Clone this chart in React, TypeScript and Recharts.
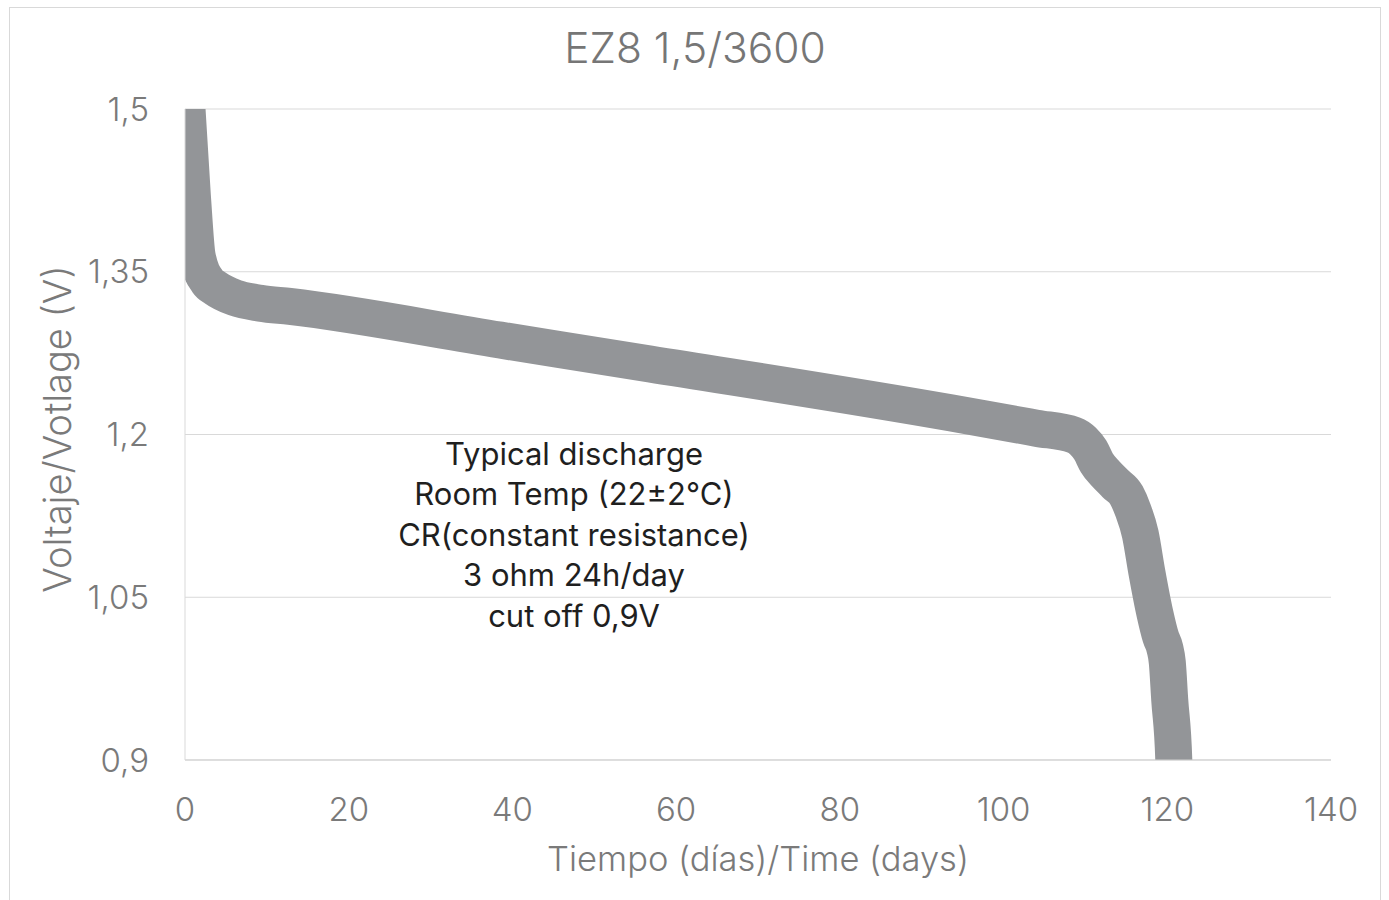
import React from 'react';
import { LineChart, Line, XAxis, YAxis, CartesianGrid } from 'recharts';

// Values
const days: number[] = [
  0, 0.9, 1.5, 2.8, 3.7, 6.1, 9.2, 12.8, 38.5, 56.8, 93.5, 104.0,
  108.6, 109.7, 110.6, 111.4, 112.5, 113.7, 115.0, 115.8, 116.7, 117.5,
  118.5, 119.2, 119.7, 120.0, 120.3, 120.8, 120.9,
];
const volts: number[] = [
  1.53, 1.42, 1.364, 1.3406, 1.335, 1.326, 1.321, 1.318, 1.287, 1.265, 1.22, 1.2058,
  1.1995, 1.194, 1.1857, 1.1737, 1.1636, 1.1544, 1.1442, 1.1304, 1.1083, 1.0733,
  1.0346, 1.0134, 1.003, 0.99, 0.9553, 0.899, 0.86,
];
const xTicks: number[] = [0, 20, 40, 60, 80, 100, 120, 140];
const yTicks: number[] = [0.9, 1.05, 1.2, 1.35, 1.5];
const noteLines: string[] = [
  'Typical discharge',
  'Room Temp (22±2°C)',
  'CR(constant resistance)',
  '3 ohm 24h/day',
  'cut off 0,9V',
];
const title = 'EZ8 1,5/3600';
const xTitle = 'Tiempo (días)/Time (days)';
const yTitle = 'Voltaje/Votlage (V)';

const data = days.map((d, i) => ({ day: d, v: volts[i] }));

const FONT = 'Inter, "Noto Sans", sans-serif';
const GRAY = '#7a7a7a';

export default function App() {
  return (
    <div
      style={{
        position: 'absolute',
        left: 0,
        top: 0,
        width: 1389,
        height: 900,
        background: '#fff',
        fontFamily: FONT,
        overflow: 'hidden',
      }}
    >
      <div
        style={{
          position: 'absolute',
          left: 9,
          top: 7,
          width: 1372,
          height: 900,
          border: '1px solid #d9d9d9',
          boxSizing: 'border-box',
        }}
      />
      <div
        style={{
          position: 'absolute',
          left: 0,
          top: 22,
          width: 1390,
          textAlign: 'center',
          fontSize: 42.5,
          fontWeight: 300,
          lineHeight: '52px',
          color: '#767676',
        }}
      >
        {title}
      </div>
      <div style={{ position: 'absolute', left: 0, top: 0 }}>
        <LineChart
          width={1389}
          height={900}
          data={data}
          margin={{ top: 109, right: 58, bottom: 0, left: 0 }}
        >
          <CartesianGrid horizontal vertical={false} stroke="#d9d9d9" strokeWidth={1} />
          <XAxis
            type="number"
            dataKey="day"
            domain={[0, 140]}
            ticks={xTicks}
            allowDataOverflow
            height={140}
            tickLine={false}
            tickSize={0}
            tickMargin={38}
            axisLine={{ stroke: '#cfcfcf' }}
            tick={{ fill: GRAY, fontSize: 33, fontFamily: FONT, fontWeight: 300 }}
            label={{
              value: xTitle,
              position: 'insideBottom',
              offset: 29,
              fill: GRAY,
              fontSize: 34.5,
              fontWeight: 300,
              fontFamily: FONT,
            }}
          />
          <YAxis
            type="number"
            domain={[0.9, 1.5]}
            ticks={yTicks}
            allowDataOverflow
            width={185}
            tickLine={false}
            tickSize={0}
            tickMargin={36}
            axisLine={{ stroke: '#d9d9d9' }}
            tickFormatter={(v: number) => String(v).replace('.', ',')}
            tick={{ fill: GRAY, fontSize: 33, fontFamily: FONT, fontWeight: 300 }}
          />
          <Line
            type="monotone"
            dataKey="v"
            stroke="#939598"
            strokeWidth={37}
            strokeLinejoin="round"
            strokeLinecap="butt"
            dot={false}
            activeDot={false}
            isAnimationActive={false}
          />
        </LineChart>
      </div>
      <div
        style={{
          position: 'absolute',
          left: 57 - 250,
          top: 428.5 - 23,
          width: 500,
          height: 46,
          textAlign: 'center',
          fontSize: 38,
          fontWeight: 300,
          lineHeight: '46px',
          color: GRAY,
          transform: 'rotate(-90deg)',
          transformOrigin: '50% 50%',
          whiteSpace: 'nowrap',
        }}
      >
        {yTitle}
      </div>
      <div
        style={{
          position: 'absolute',
          left: 324,
          top: 434,
          width: 500,
          textAlign: 'center',
          fontSize: 31,
          lineHeight: '40.4px',
          color: '#1f1f1f',
        }}
      >
        {noteLines.map((l, i) => (
          <div key={i}>{l}</div>
        ))}
      </div>
    </div>
  );
}
